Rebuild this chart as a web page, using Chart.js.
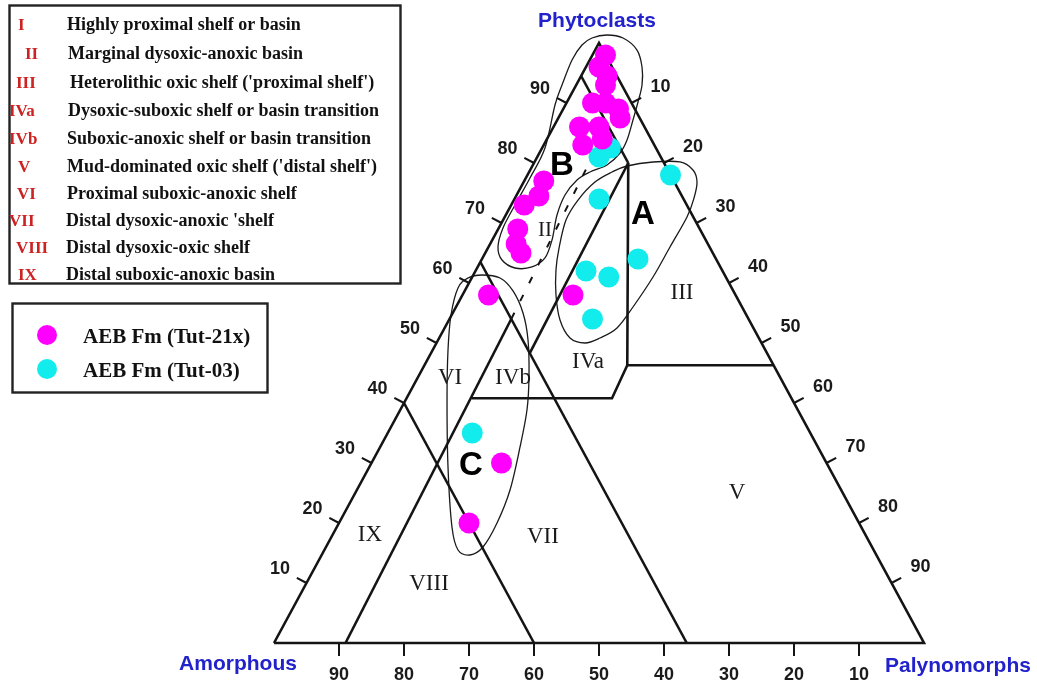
<!DOCTYPE html>
<html>
<head>
<meta charset="utf-8">
<script src="https://cdn.jsdelivr.net/npm/chart.js@4/dist/chart.umd.min.js"></script>
<style>
  html, body { margin: 0; padding: 0; background: #ffffff; }
  canvas { display: block; }
</style>
</head>
<body>
<canvas id="ternary" width="1037" height="685"></canvas>
<script>
// ---- Sample compositions (percent): amorphous, phytoclasts, palynomorphs ----
const seriesNames = ['AEB Fm (Tut-21x)', 'AEB Fm (Tut-03)'];

const tut21xAmorphous = [0, 2, 1.5, 2.5, 6, 4, 2.5, 3, 10, 11, 7, 7.5, 20, 22, 25, 28, 29.5, 29.5, 38, 25, 50, 60];
const tut21xPhyto     = [98, 96, 94.5, 93, 90, 90, 89, 87.5, 86, 83, 86, 84, 77, 74.5, 73, 69, 66.5, 65, 58, 58, 30, 20];
const tut21xPaly      = [2, 2, 4, 4.5, 4, 6, 8.5, 9.5, 4, 6, 7, 8.5, 3, 3.5, 2, 3, 4, 5.5, 4, 17, 20, 20];

const tut03Amorphous = [9.5, 7, 13, 0, 12, 21, 18, 24, 52];
const tut03Phyto     = [81, 82.5, 74, 78, 64, 62, 61, 54, 35];
const tut03Paly      = [9.5, 10.5, 13, 22, 24, 17, 21, 22, 13];

// Axis tick values
const tickValues = [10, 20, 30, 40, 50, 60, 70, 80, 90];

// Vertex names
const vertexNames = { top: 'Phytoclasts', left: 'Amorphous', right: 'Palynomorphs' };

// Palynofacies fields (Tyson)
const fieldCodes = ['I', 'II', 'III', 'IVa', 'IVb', 'V', 'VI', 'VII', 'VIII', 'IX'];
const fieldNames = [
  'Highly proximal shelf or basin',
  'Marginal dysoxic-anoxic basin',
  "Heterolithic oxic shelf ('proximal shelf')",
  'Dysoxic-suboxic shelf or basin transition',
  'Suboxic-anoxic shelf or basin transition',
  "Mud-dominated oxic shelf ('distal shelf')",
  'Proximal suboxic-anoxic shelf',
  "Distal dysoxic-anoxic 'shelf",
  'Distal dysoxic-oxic shelf',
  'Distal suboxic-anoxic basin'
];

// Field boundaries as ternary points [amorphous, phytoclasts, palynomorphs]
const frameLine    = [[100, 0, 0], [0, 0, 100], [0, 100, 0], [100, 0, 0]];
const fieldI       = [[5.5, 94.5, 0], [5.5, 80, 14.5]];
const fieldIIIbox  = [[0, 46.3, 53.7], [22.5, 46.3, 31.2], [5.5, 80, 14.5]];
const fieldIVtop   = [[22.5, 46.3, 31.2], [27.6, 40.8, 31.6], [49.2, 40.8, 10]];
const fieldIVaLeft = [[5.5, 80, 14.5], [36.5, 48.3, 15.2]];
const amorph365    = [[36.5, 63.5, 0], [36.5, 0, 63.5]];
const amorph60     = [[60, 40, 0], [60, 0, 40]];
const paly10       = [[89, 0, 11], [36.5, 54, 9.5]];
const paly10Dash   = [[36.5, 54, 9.5], [12, 79.5, 8.5]];

// Group outlines in the ternary plane (x = pal + phy/2, y = phy)
const outlineB = [[48.92,100.83],[51.23,101.33],[53.69,100.83],[55.85,98.83],[56.62,96.0],[56.62,93.0],[56.0,90.17],[55.23,87.17],[54.31,83.83],[53.23,81.67],[51.23,79.67],[48.62,78.5],[46.62,77.17],[44.77,74.67],[43.54,71.33],[42.77,67.17],[41.69,64.17],[39.69,62.67],[37.08,62.5],[35.08,63.83],[34.46,66.0],[35.23,69.17],[37.08,73.0],[39.38,77.5],[41.69,82.5],[43.23,89.67],[44.31,93.0],[45.85,97.17],[47.38,99.67]];
const outlineA = [[54.31,79.5],[58.31,80.17],[62.46,80.17],[64.46,78.83],[65.08,76.83],[64.62,74.17],[63.54,71.0],[60.92,66.0],[58.31,61.0],[55.23,56.0],[52.77,52.5],[50.15,50.83],[47.85,50.0],[45.54,50.83],[44.0,53.83],[43.38,58.0],[43.38,62.17],[43.85,65.83],[44.92,70.5],[46.77,73.83],[49.38,76.83],[52.0,78.5]];
const outlineC = [[32.0,61.33],[34.77,60.83],[36.77,58.67],[38.31,55.0],[39.08,50.5],[39.23,44.33],[38.92,38.83],[37.85,32.67],[36.31,25.5],[34.31,20.0],[32.15,16.0],[30.15,14.67],[28.31,15.5],[27.38,19.33],[26.77,29.33],[26.62,40.5],[26.77,48.83],[27.23,54.67],[28.31,59.17],[29.85,60.83]];

// Field and group labels placed in the ternary plane
const fieldLabels = [
  { t: 'IX',   at: [14.77, 18.0] },
  { t: 'VIII', at: [23.85, 9.83] },
  { t: 'VII',  at: [41.38, 17.67] },
  { t: 'V',    at: [71.23, 25.0] },
  { t: 'III',  at: [62.77, 58.33] },
  { t: 'IVa',  at: [48.31, 46.83] },
  { t: 'IVb',  at: [36.77, 44.17] },
  { t: 'VI',   at: [27.08, 44.17] },
  { t: 'II',   at: [41.69, 68.83] }
];
const groupLabels = [
  { t: 'B', at: [44.31, 79.67] },
  { t: 'A', at: [56.77, 71.5] },
  { t: 'C', at: [30.31, 29.67] }
];

// ---- helpers ----
function toPlane(am, phy, pal) {
  const s = am + phy + pal;
  return { x: 100 * (pal + phy / 2) / s, y: 100 * phy / s };
}
function seriesPoints(am, phy, pal) {
  return phy.map((p, i) => toPlane(am[i], p, pal[i]));
}
function pathPoints(list) {
  return list.map(p => toPlane(p[0], p[1], p[2]));
}

const SERIF = "'Liberation Serif', 'Times New Roman', serif";
const SANS = "'Liberation Sans', Arial, sans-serif";
const INK = '#141414';
const MAGENTA = '#ff00ff';
const CYAN = '#12ecec';

function lineSet(list, opts) {
  return Object.assign({
    type: 'scatter',
    data: pathPoints(list),
    showLine: true,
    pointRadius: 0,
    borderColor: INK,
    borderWidth: 2.6,
    borderJoinStyle: 'miter',
    clip: false,
    order: 5
  }, opts || {});
}

function px(chart, x, y) {
  return { x: chart.scales.x.getPixelForValue(x), y: chart.scales.y.getPixelForValue(y) };
}

function strokeClosedSmooth(ctx, pts) {
  const n = pts.length;
  ctx.beginPath();
  ctx.moveTo(pts[0].x, pts[0].y);
  for (let i = 0; i < n; i++) {
    const p0 = pts[(i - 1 + n) % n], p1 = pts[i], p2 = pts[(i + 1) % n], p3 = pts[(i + 2) % n];
    ctx.bezierCurveTo(
      p1.x + (p2.x - p0.x) / 6, p1.y + (p2.y - p0.y) / 6,
      p2.x - (p3.x - p1.x) / 6, p2.y - (p3.y - p1.y) / 6,
      p2.x, p2.y);
  }
  ctx.closePath();
  ctx.stroke();
}

// Outlines and in-plot labels, drawn beneath the sample points
const plotDecor = {
  id: 'plotDecor',
  beforeDatasetsDraw(chart) {
    const ctx = chart.ctx;
    ctx.save();
    ctx.strokeStyle = '#1a1a1a';
    ctx.lineWidth = 1.3;
    [outlineB, outlineA, outlineC].forEach(o => strokeClosedSmooth(ctx, o.map(p => px(chart, p[0], p[1]))));

    ctx.fillStyle = '#1a1a1a';
    ctx.textAlign = 'center';
    ctx.textBaseline = 'middle';
    fieldLabels.forEach(l => {
      const p = px(chart, l.at[0], l.at[1]);
      ctx.font = (l.t === 'II' ? '21px ' : '23px ') + SERIF;
      ctx.fillText(l.t, p.x, p.y);
    });
    ctx.fillStyle = '#000';
    ctx.font = 'bold 33px ' + SANS;
    groupLabels.forEach(l => {
      const p = px(chart, l.at[0], l.at[1]);
      ctx.fillText(l.t, p.x, p.y + 1);
    });
    ctx.restore();
  }
};

// Axis ticks, vertex names and the two legend boxes
const frameDecor = {
  id: 'frameDecor',
  afterDraw(chart) {
    const ctx = chart.ctx;
    const A = px(chart, 0, 0), P = px(chart, 100, 0), T = px(chart, 50, 100);
    const norm = (vx, vy) => { const l = Math.hypot(vx, vy); return { x: vx / l, y: vy / l }; };
    // outward normals of the left and right sides
    const eL = norm(T.x - A.x, T.y - A.y), eR = norm(P.x - T.x, P.y - T.y);
    const outL = { x: eL.y, y: -eL.x };
    const outR = { x: eR.y, y: -eR.x };

    ctx.save();
    ctx.strokeStyle = INK;
    ctx.lineWidth = 2;
    ctx.fillStyle = '#1a1a1a';
    ctx.font = 'bold 18px ' + SANS;
    ctx.textAlign = 'center';
    ctx.textBaseline = 'middle';
    tickValues.forEach(v => {
      // phytoclasts along the left side
      let b = toPlane(100 - v, v, 0), p = px(chart, b.x, b.y);
      ctx.beginPath(); ctx.moveTo(p.x, p.y); ctx.lineTo(p.x + outL.x * 11, p.y + outL.y * 11); ctx.stroke();
      ctx.fillText(String(v), p.x + outL.x * 30, p.y + outL.y * 30);
      // palynomorphs along the right side
      b = toPlane(0, 100 - v, v); p = px(chart, b.x, b.y);
      ctx.beginPath(); ctx.moveTo(p.x, p.y); ctx.lineTo(p.x + outR.x * 11, p.y + outR.y * 11); ctx.stroke();
      ctx.fillText(String(v), p.x + outR.x * 33, p.y + outR.y * 33);
      // amorphous along the base
      b = toPlane(v, 0, 100 - v); p = px(chart, b.x, b.y);
      ctx.beginPath(); ctx.moveTo(p.x, p.y); ctx.lineTo(p.x, p.y + 13); ctx.stroke();
      ctx.fillText(String(v), p.x, p.y + 32);
    });

    // vertex names
    ctx.fillStyle = '#2222cc';
    ctx.font = 'bold 21px ' + SANS;
    ctx.textBaseline = 'alphabetic';
    ctx.fillText(vertexNames.top, T.x - 2, T.y - 16);
    ctx.fillText(vertexNames.left, A.x - 36, A.y + 27);
    ctx.fillText(vertexNames.right, P.x + 34, P.y + 29);

    // field legend
    ctx.strokeStyle = '#222';
    ctx.lineWidth = 2.4;
    ctx.strokeRect(9.5, 5.5, 391, 278);
    const codeX = [18, 25, 16, 9, 9, 18, 17, 9, 16, 18];
    const nameX = [67, 68, 70, 68, 67, 67, 67, 66, 66, 66];
    const rowY = [30, 59, 88, 116, 144, 172, 199, 226, 253, 280];
    ctx.textAlign = 'left';
    fieldCodes.forEach((c, i) => {
      ctx.fillStyle = '#cc2222';
      ctx.font = 'bold 17px ' + SERIF;
      ctx.fillText(c, codeX[i], rowY[i]);
      ctx.fillStyle = '#111';
      ctx.font = 'bold 18px ' + SERIF;
      ctx.fillText(fieldNames[i], nameX[i], rowY[i]);
    });

    // series legend
    ctx.strokeRect(12.5, 303.5, 255, 89);
    const swatch = [MAGENTA, CYAN];
    seriesNames.forEach((s, i) => {
      const cy = 335 + i * 34;
      ctx.fillStyle = swatch[i];
      ctx.beginPath(); ctx.arc(47, cy, 10, 0, Math.PI * 2); ctx.fill();
      ctx.fillStyle = '#111';
      ctx.font = 'bold 21px ' + SERIF;
      ctx.fillText(s, 83, cy + 8);
    });
    ctx.restore();
  }
};

new Chart(document.getElementById('ternary'), {
  type: 'scatter',
  data: {
    datasets: [
      { label: seriesNames[0], data: seriesPoints(tut21xAmorphous, tut21xPhyto, tut21xPaly),
        backgroundColor: MAGENTA, borderWidth: 0, pointRadius: 10.5, clip: false, order: 0 },
      { label: seriesNames[1], data: seriesPoints(tut03Amorphous, tut03Phyto, tut03Paly),
        backgroundColor: CYAN, borderWidth: 0, pointRadius: 10.5, clip: false, order: 0 },
      lineSet(frameLine),
      lineSet(fieldI),
      lineSet(fieldIIIbox),
      lineSet(fieldIVtop),
      lineSet(fieldIVaLeft),
      lineSet(amorph365),
      lineSet(amorph60),
      lineSet(paly10),
      lineSet(paly10Dash, { borderDash: [7, 13], borderWidth: 2 })
    ]
  },
  options: {
    responsive: false,
    animation: false,
    events: [],
    layout: { padding: { left: 274, right: 113, top: 43, bottom: 42 } },
    scales: {
      x: { type: 'linear', min: 0, max: 100, display: false },
      y: { type: 'linear', min: 0, max: 100, display: false }
    },
    plugins: { legend: { display: false }, tooltip: { enabled: false } }
  },
  plugins: [plotDecor, frameDecor]
});
</script>
</body>
</html>
